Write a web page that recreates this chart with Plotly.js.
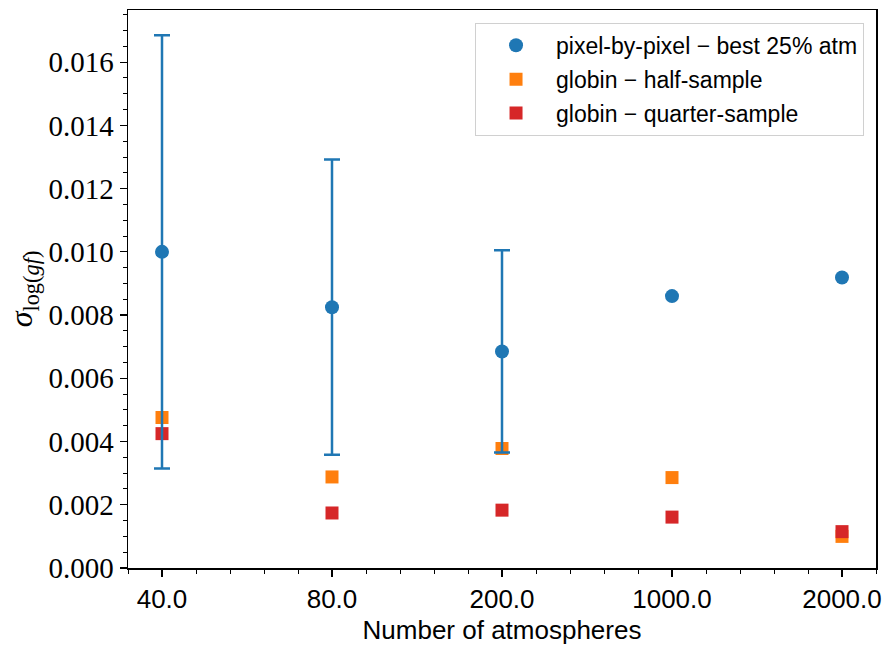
<!DOCTYPE html>
<html>
<head>
<meta charset="utf-8">
<script src="https://cdn.plot.ly/plotly-3.0.1.min.js"></script>
<style>html,body{margin:0;padding:0;background:#fff;}#chart{width:885px;height:646px;}</style>
</head>
<body>
<div id="chart"></div>
<script>
// Data
const categories = ["40.0", "80.0", "200.0", "1000.0", "2000.0"];
const pixelBest25 = [0.0100, 0.00825, 0.00685, 0.00860, 0.00919];
const pixelBest25Err = [0.00685, 0.00467, 0.00320, null, null];
const globinHalf = [0.00476, 0.00288, 0.00378, 0.00286, 0.00100];
const globinQuarter = [0.00425, 0.00174, 0.00183, 0.00161, 0.00115];
const seriesNames = ["pixel-by-pixel − best 25% atm", "globin − half-sample", "globin − quarter-sample"];

const xIdx = categories.map((c, i) => i);

const traces = [
  {
    x: xIdx, y: globinHalf, type: 'scatter', mode: 'markers', name: seriesNames[1],
    marker: {symbol: 'square', size: 13, color: '#ff7f0e'},
    legendrank: 2, legendgroup: 'b'
  },
  {
    x: xIdx, y: globinQuarter, type: 'scatter', mode: 'markers', name: seriesNames[2],
    marker: {symbol: 'square', size: 13, color: '#d62728'},
    legendrank: 3, legendgroup: 'c'
  },
  {
    x: xIdx, y: pixelBest25, type: 'scatter', mode: 'markers', name: seriesNames[0],
    marker: {symbol: 'circle', size: 14, color: '#1f77b4'},
    error_y: {type: 'data', array: pixelBest25Err.map(v => v === null ? NaN : v), visible: true,
              color: '#1f77b4', thickness: 2.5, width: 8},
    legendrank: 1, legendgroup: 'a'
  }
];

const layout = {
  width: 885, height: 646,
  margin: {l: 128, r: 9, t: 10, b: 78},
  paper_bgcolor: '#fff', plot_bgcolor: '#fff',
  showlegend: true,
  legend: {
    x: 0.984, y: 0.977, xanchor: 'right', yanchor: 'top',
    bgcolor: 'rgba(255,255,255,0.8)', bordercolor: '#d0d0d0', borderwidth: 1,
    font: {family: 'Liberation Sans, Arial, sans-serif', size: 23, color: '#000'},
    tracegroupgap: 1, itemwidth: 70
  },
  xaxis: {
    range: [-0.2, 4.2],
    tickmode: 'array', tickvals: xIdx, ticktext: categories,
    showgrid: false, zeroline: false,
    showline: true, linecolor: '#000', linewidth: 1.5, mirror: true,
    ticks: 'outside', ticklen: 7, tickwidth: 1.2, tickcolor: '#000',
    minor: {ticks: 'outside', ticklen: 4, tickwidth: 1, tickcolor: '#000', tick0: 0, dtick: 0.2, showgrid: false},
    tickfont: {family: 'Liberation Sans, Arial, sans-serif', size: 26, color: '#000'},
    title: {text: 'Number of atmospheres', font: {family: 'Liberation Sans, Arial, sans-serif', size: 26, color: '#000'}, standoff: 8}
  },
  yaxis: {
    range: [0, 0.01765],
    tickmode: 'linear', tick0: 0, dtick: 0.002, tickformat: '.3f',
    showgrid: false, zeroline: false,
    showline: true, linecolor: '#000', linewidth: 1.5, mirror: true,
    ticks: 'outside', ticklen: 7, tickwidth: 1.2, tickcolor: '#000',
    minor: {ticks: 'outside', ticklen: 4, tickwidth: 1, tickcolor: '#000', tick0: 0, dtick: 0.0005, showgrid: false},
    tickfont: {family: 'Liberation Serif, Times New Roman, serif', size: 29, color: '#000'},
    title: {text: '<i>σ</i><sub>log(<i>gf</i>)</sub>', font: {family: 'Liberation Serif, Times New Roman, serif', size: 32, color: '#000'}, standoff: 6}
  }
};

Plotly.newPlot('chart', traces, layout, {displayModeBar: false, staticPlot: true});
</script>
</body>
</html>
